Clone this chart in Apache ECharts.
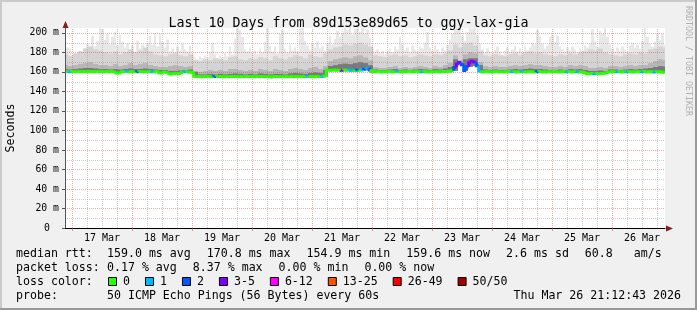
<!DOCTYPE html>
<html><head><meta charset="utf-8">
<script src="https://cdn.jsdelivr.net/npm/echarts@6/dist/echarts.min.js"></script>
<style>html,body{margin:0;padding:0;background:#f0f0f0}#c{width:697px;height:310px}</style>
</head><body><div id="c"></div><script>
// ---------------- DATA ----------------
const TITLE = 'Last 10 Days from 89d153e89d65 to ggy-lax-gia';
const DAY_LABELS = ['17 Mar','18 Mar','19 Mar','20 Mar','21 Mar','22 Mar','23 Mar','24 Mar','25 Mar','26 Mar'];
const Y_TICKS = [0,20,40,60,80,100,120,140,160,180,200];
// hourly samples (hours relative to 17 Mar 00:00, starting 16 Mar 21:12)
const MEDIAN = [
160.3,160.4,160.2,160.5,160.3,160.2,160.4,160.1,160.3,160.2,
160.3,160.4,160.2,160.5,160.3,160.4,160.2,160.3,160.1,160.4,
159.9,158.9,158.8,160.1,160.3,160.4,160.2,160.3,160.1,160.2,
160.4,160.3,160.2,160.1,160.3,160.2,160.1,160.3,159.1,158.9,
160.0,159.6,158.2,158.0,158.1,158.3,158.4,159.8,160.1,160.2,
160.0,159.6,155.6,155.2,155.3,155.1,155.4,155.2,155.3,155.1,
155.2,155.4,155.3,155.2,155.1,155.3,155.2,155.4,155.3,155.2,
155.1,155.3,155.2,155.4,155.3,155.2,155.1,155.3,155.2,155.4,
155.3,155.2,155.1,154.9,155.2,155.4,155.3,155.2,155.1,155.3,
155.2,155.4,155.3,155.2,155.1,155.3,155.2,155.4,155.3,155.2,
155.1,155.3,155.2,155.4,155.5,161.6,161.8,161.7,161.9,161.6,
161.8,161.7,161.9,161.6,161.8,161.7,161.5,161.8,161.6,161.9,
162.8,163.2,162.9,160.4,160.1,160.2,160.3,160.0,160.2,160.1,
160.3,160.2,160.1,160.3,160.2,160.0,160.2,160.1,160.3,160.2,
160.1,160.3,160.2,160.1,160.3,160.2,160.0,160.2,160.1,160.3,
160.2,160.1,160.3,160.4,160.6,161.2,164.5,168.2,169.6,167.4,
161.5,165.2,169.4,170.8,170.1,166.3,160.8,160.2,160.1,160.3,
160.2,160.0,160.1,160.3,160.2,160.1,160.0,160.2,160.3,160.1,
160.2,160.0,160.1,160.3,160.2,159.9,160.1,160.2,160.0,160.1,
160.3,160.2,160.1,160.0,160.2,160.1,160.3,160.2,160.0,160.1,
160.2,160.1,160.3,160.0,160.2,160.1,159.9,160.0,159.5,158.4,
158.2,158.3,158.1,158.4,158.2,158.3,158.5,159.2,160.0,160.1,
160.2,160.1,160.3,160.0,160.2,160.1,160.3,160.2,160.0,160.1,
160.2,160.1,160.3,160.0,160.2,160.1,160.0,160.2,160.1,159.8,
159.6];
const LOSS = [
0,0,1,0,0,0,0,0,0,0,
0,0,0,0,0,0,0,0,0,0,
0,0,0,0,0,1,0,0,0,2,
0,0,0,0,0,1,0,0,0,0,
0,0,0,0,0,0,0,0,1,0,
0,0,0,0,0,0,0,0,0,0,
2,0,0,0,0,0,0,0,0,0,
0,0,0,0,0,0,0,0,0,0,
0,0,0,0,0,0,0,0,0,0,
0,0,0,0,0,0,0,1,0,0,
0,0,0,1,0,0,0,0,0,0,
0,3,0,0,1,1,0,2,0,1,
2,1,2,0,0,0,0,0,0,0,
0,0,0,1,0,0,0,0,0,0,
0,0,0,1,0,0,0,0,0,0,
0,0,0,0,0,0,2,3,3,2,
2,2,3,3,3,2,1,0,0,0,
0,0,0,0,0,0,0,0,0,1,
0,0,0,1,0,0,0,0,0,2,
0,0,0,0,0,0,0,0,0,0,
0,1,0,0,0,1,0,0,0,0,
0,0,1,0,0,0,0,0,0,0,
0,1,0,0,0,1,0,0,0,0,
0,1,0,0,0,0,1,0,0,0,
0];
const MAXP = [
186,185,184,177,176,179,182,180,184,189,
183,197,186,192,205,204,193,199,188,196,
201,187,198,191,185,189,183,187,181,192,
184,188,182,190,197,188,200,186,199,191,
185,193,181,184,180,186,182,189,183,181,
187,178,175,173,176,174,177,175,180,190,
178,174,177,175,179,176,186,178,194,205,
203,196,183,181,185,179,182,178,184,180,
191,205,187,181,186,179,199,203,184,180,
188,182,185,181,204,205,192,187,183,189,
185,191,184,186,182,190,197,188,194,202,
196,199,205,203,205,198,204,205,201,205,
199,203,195,184,180,183,179,182,178,181,
184,180,186,183,196,188,182,185,180,187,
183,181,186,184,190,201,185,182,187,183,
180,185,182,188,193,199,204,205,203,197,
192,201,205,204,205,198,189,183,180,184,
181,179,183,186,181,178,182,185,180,183,
187,181,184,180,186,182,185,190,188,203,
197,189,184,187,196,198,191,197,186,183,
181,185,182,186,183,180,184,182,187,185,
189,204,192,186,202,199,205,196,188,184,
181,185,182,186,183,181,187,190,185,188,
184,192,205,196,189,186,191,200,193,199,
188];
// two-hourly smoke percentiles
const P90 = [
178,176,179,181,184,186,183,182,180,179,
181,178,180,183,180,182,185,181,178,177,
176,178,179,177,176,178,172,171,173,172,
174,173,172,175,176,173,172,174,173,175,
174,172,176,174,173,175,177,176,174,178,
176,175,179,183,185,186,188,187,189,190,
188,186,177,176,175,177,178,176,177,175,
176,178,177,176,178,177,179,182,188,185,
189,190,187,181,177,176,178,177,176,178,
179,177,180,181,179,180,178,177,176,178,
177,179,178,180,181,183,182,184,180,178,
177,176,178,179,178,180,179,183,184,186,
185];
const P70 = [
167,166,167,168,169,170,168,167,167,166,
168,166,167,169,167,168,169,167,166,165,
165,166,167,166,165,166,161,160,161,162,
161,162,161,163,163,162,161,162,161,163,
162,161,163,162,161,163,164,163,162,164,
165,163,166,171,173,174,175,174,176,177,
175,172,165,164,164,165,166,164,165,164,
165,166,165,164,166,165,167,169,177,172,
178,180,179,170,166,165,166,165,165,166,
167,166,167,168,167,167,166,165,165,166,
165,167,166,167,166,164,164,165,164,166,
166,165,166,167,166,167,167,169,171,173,
172];
const P55 = [
163,162.5,163,163.5,164,164,163.5,163,163,162.5,
163,162.5,163,163.5,163,163,163.5,163,162.5,162,
162,161,161,161.5,162,162.5,160,157.5,157.5,158,
157.5,158,157.5,158,158.5,158,157.5,158,157.5,158.5,
158,157.5,158,158,157.5,158.5,159,158.5,158,159,
159.5,159,162,166,167,168,168.5,168,169,170,
169,167,162.5,162,162,162.5,163,162,162.5,162,
162.5,163,162.5,162,163,162.5,163.5,165,173,168,
173,174,174,167,162.5,162,162.5,162,162,162.5,
163,162.5,163,163.5,163,163,162.5,162,162,162.5,
162,163,162.5,163,162,161,161,161.5,161,162.5,
162.5,162,162.5,163,162.5,163,163.5,164,165,166,
165.5];
const STAT_LINES = [
  ['median rtt:', ['159.0 ms avg','170.8 ms max','154.9 ms min','159.6 ms now','2.6 ms sd','60.8   am/s']],
  ['packet loss:', ['0.17 % avg','8.37 % max','0.00 % min','0.00 % now']]
];
const LOSS_LABELS = ['0','1','2','3-5','6-12','13-25','26-49','50/50'];
const LOSS_COLORS = ['#26ff00','#00b8ff','#0059ff','#7e00ff','#ff00ff','#ff5500','#ff0000','#a10000'];
const LOSS_MIN = [0,1,2,3,6,13,26,50];
const PROBE = '50 ICMP Echo Pings (56 Bytes) every 60s';
const STAMP = 'Thu Mar 26 21:12:43 2026';

// ---------------- LAYOUT / STYLE ----------------
const X_MIN = -2.8, X_MAX = 237.2, Y_MAX = 205;
const MONO = '"DejaVu Sans Mono", monospace';
const MGRID = 'rgba(222,79,79,0.5)', GRID = 'rgba(143,143,143,0.45)';
const T1 = MEDIAN.map((_, i) => X_MIN + i);
const T2 = P90.map((_, j) => X_MIN + 2 * j);
// baseline of each two-hour smoke column: lowest hourly median it spans
const BASE2 = T2.map((_, j) => Math.min(...[2 * j - 1, 2 * j, 2 * j + 1].filter(k => k >= 0 && k < MEDIAN.length).map(k => MEDIAN[k])));
let lenErr = '';
if (LOSS.length !== MEDIAN.length || MAXP.length !== MEDIAN.length) lenErr = ' [len1 ' + MEDIAN.length + '/' + LOSS.length + '/' + MAXP.length + ']';
if (P70.length !== P90.length || P55.length !== P90.length) lenErr += ' [len2 ' + P90.length + '/' + P70.length + '/' + P55.length + ']';

const V_GRID = []; for (let h = 0; h <= X_MAX; h += 6) V_GRID.push(h);
const H_GRID = []; for (let v = 10; v <= 200; v += 10) H_GRID.push(v);

function lossColor(l) { let c = LOSS_COLORS[0]; for (let k = 0; k < LOSS_MIN.length; k++) if (l >= LOSS_MIN[k]) c = LOSS_COLORS[k]; return c; }

// smoke column layer: each sample is a column from its baseline (median) up to the percentile value
function smoke(vals, times, bases, span, color, z) {
  return { type: 'custom', z: z, silent: true, clip: true, encode: { x: 0, y: 1 },
    data: vals.map((v, i) => [times[i], v, bases[i]]),
    renderItem: (p, api) => {
      const t = api.value(0), v = api.value(1), b = api.value(2);
      const a = api.coord([t - span / 2, v]), c = api.coord([t + span / 2, b]);
      const x0 = Math.round(a[0]), x1 = Math.round(c[0]);
      return { type: 'rect', shape: { x: x0, y: a[1], width: x1 - x0, height: c[1] - a[1] }, style: { fill: color } };
    } };
}

const chart = echarts.init(document.getElementById('c'), null, { renderer: 'canvas' });

const graphics = [];
graphics.push({ type: 'rect', shape: { x: 0, y: 0, width: 697, height: 2 }, style: { fill: '#cbcbcb' }, silent: true });
graphics.push({ type: 'rect', shape: { x: 0, y: 0, width: 2, height: 310 }, style: { fill: '#cbcbcb' }, silent: true });
graphics.push({ type: 'rect', shape: { x: 0, y: 308, width: 697, height: 2 }, style: { fill: '#999999' }, silent: true });
graphics.push({ type: 'rect', shape: { x: 695, y: 0, width: 2, height: 310 }, style: { fill: '#999999' }, silent: true });
graphics.push({ type: 'polygon', shape: { points: [[65.5, 21], [62.5, 28], [68.5, 28]] }, style: { fill: '#7f1f1f' }, z: 100, silent: true });
graphics.push({ type: 'polygon', shape: { points: [[673, 228.5], [666, 225.5], [666, 231.5]] }, style: { fill: '#7f1f1f' }, z: 100, silent: true });
graphics.push({ type: 'text', x: 688, y: 61, rotation: -Math.PI / 2, silent: true,
  style: { text: 'RRDTOOL / TOBI OETIKER', font: '8.3px ' + MONO, fill: '#b0b0b0', textAlign: 'center', textVerticalAlign: 'middle', align: 'center', verticalAlign: 'middle' } });

function txt(s, x, y, align) {
  graphics.push({ type: 'text', x: x, y: y, silent: true, z: 100,
    style: { text: s, font: '11.6px ' + MONO, fill: '#000', textAlign: align || 'left', textVerticalAlign: 'middle', align: align || 'left', verticalAlign: 'middle' } });
}
const LX0 = 16, LCOL = 107, CW = 6.98, GAP = 16, LY = [254, 268, 282, 296];
STAT_LINES.forEach((ln, r) => {
  txt(ln[0], LX0, LY[r]);
  let x = LCOL;
  ln[1].forEach(s => { txt(s, x, LY[r]); x += s.length * CW + GAP; });
});
txt('loss color:', LX0, LY[2]);
let bx = 108;
LOSS_LABELS.forEach((s, k) => {
  graphics.push({ type: 'rect', shape: { x: bx + 0.5, y: LY[2] - 4.5, width: 8, height: 8 }, style: { fill: LOSS_COLORS[k], stroke: '#000', lineWidth: 1 }, z: 100, silent: true });
  txt(s, bx + 15, LY[2]);
  bx = bx + 15 + s.length * CW + 15;
});
txt('probe:', LX0, LY[3]);
txt(PROBE, LCOL, LY[3]);
txt(STAMP, 681, LY[3], 'right');

const option = {
  animation: false,
  backgroundColor: '#f0f0f0',
  title: { text: TITLE + lenErr, left: 'center', top: 11, textStyle: { fontFamily: MONO, fontSize: 13.3, fontWeight: 'normal', color: '#000', lineHeight: 16 } },
  grid: { left: 65, top: 28, width: 600, height: 200, show: true, backgroundColor: '#ffffff', borderWidth: 0, containLabel: false, outerBoundsMode: 'none' },
  xAxis: {
    type: 'value', min: X_MIN, max: X_MAX, z: 10,
    axisLine: { show: true, onZero: false, lineStyle: { color: '#000', width: 1 } },
    axisTick: { show: true, customValues: V_GRID.filter(h => h % 24 === 0), length: 3, lineStyle: { color: 'rgba(222,79,79,0.6)' } },
    splitLine: { show: false },
    axisLabel: { customValues: DAY_LABELS.map((_, k) => 12 + 24 * k), formatter: v => DAY_LABELS[Math.round((v - 12) / 24)],
      fontFamily: MONO, fontSize: 10, color: '#000', margin: 5 }
  },
  yAxis: {
    type: 'value', min: 0, max: Y_MAX, z: 10,
    name: 'Seconds', nameLocation: 'middle', nameGap: 48, nameRotate: 90,
    nameTextStyle: { fontFamily: MONO, fontSize: 11.6, color: '#000' },
    axisLine: { show: true, onZero: false, lineStyle: { color: '#555', width: 1 } },
    axisTick: { show: true, customValues: Y_TICKS, length: 3, lineStyle: { color: '#555' } },
    splitLine: { show: false },
    axisLabel: { customValues: Y_TICKS, formatter: v => v === 0 ? '{z|0}' : v + ' m', fontFamily: MONO, fontSize: 9.8, color: '#000', margin: 6,
      rich: { z: { fontFamily: MONO, fontSize: 9.8, color: '#000', padding: [0, 9, 0, 0] } } }
  },
  graphic: { elements: graphics },
  series: [
    smoke(MAXP, T1, MEDIAN, 1, '#e8e8e8', 1),
    smoke(P90, T2, BASE2, 2, '#d4d4d4', 2),
    smoke(P70, T2, BASE2, 2, '#b6b6b6', 3),
    smoke(P55, T2, BASE2, 2, '#7a7a7a', 4),
    { type: 'custom', z: 6, silent: true, clip: true, encode: { x: 0, y: 1 },
      data: V_GRID.map(h => [h, 0]),
      renderItem: (p, api) => { const h = api.value(0); const a = api.coord([h, 0]), b = api.coord([h, Y_MAX]); const x = Math.round(a[0]) + 0.5;
        return { type: 'line', shape: { x1: x, y1: a[1], x2: x, y2: b[1] }, style: { stroke: h % 24 === 0 ? MGRID : GRID, lineWidth: 1, lineDash: [1, 1], fill: 'none' } }; } },
    { type: 'custom', z: 6, silent: true, clip: true, encode: { x: 0, y: 1 },
      data: H_GRID.map(v => [X_MIN, v]),
      renderItem: (p, api) => { const v = api.value(1); const a = api.coord([X_MIN, v]), b = api.coord([X_MAX, v]); const y = Math.round(a[1]) + 0.5;
        return { type: 'line', shape: { x1: a[0], y1: y, x2: b[0], y2: y }, style: { stroke: v % 20 === 0 ? MGRID : GRID, lineWidth: 1, lineDash: [1, 1], fill: 'none' } }; } },
    { type: 'custom', z: 7, silent: true, clip: true, encode: { x: 0, y: 1 }, dimensions: ['t', 'm', 'l', 'pm'],
      data: MEDIAN.map((m, i) => [T1[i], m, LOSS[i], i > 0 ? MEDIAN[i - 1] : m]),
      renderItem: (p, api) => { const t = api.value(0), m = api.value(1), l = api.value(2), pm = api.value(3);
        const a = api.coord([t - 0.5, pm]), b = api.coord([t - 0.5, m]), c = api.coord([t + 0.5, m]);
        return { type: 'polyline', shape: { points: [a, b, c] }, style: { stroke: lossColor(l), lineWidth: 3, fill: 'none', lineCap: 'butt', lineJoin: 'miter' } }; } }
  ]
};
chart.setOption(option);
</script></body></html>
